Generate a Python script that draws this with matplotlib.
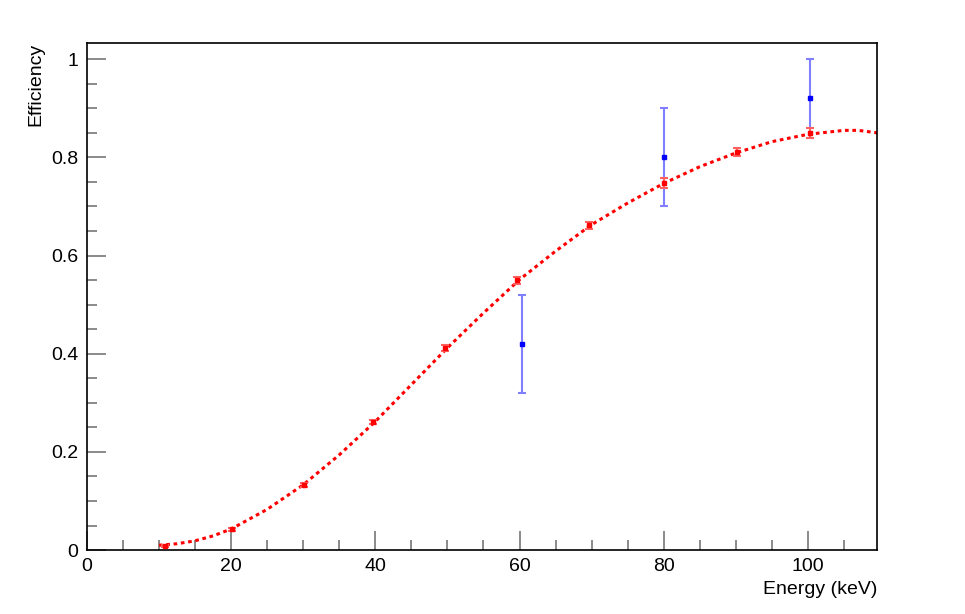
import numpy as np
from matplotlib import pyplot as plt
from matplotlib.ticker import MultipleLocator

# measured efficiency (red)
energy = [10.8, 20.1, 30.1, 39.7, 49.7, 59.6, 69.6, 80.1, 90.1, 100.3]
eff = [0.008, 0.043, 0.133, 0.261, 0.411, 0.550, 0.662, 0.747, 0.811, 0.849]
eff_err = [0.002, 0.003, 0.004, 0.005, 0.006, 0.007, 0.007, 0.01, 0.009, 0.01]

# second set (blue)
energy_b = [60.3, 80.0, 100.3]
eff_b = [0.42, 0.80, 0.92]
eff_b_err = [0.10, 0.10, 0.08]

# fit curve
fit_x = [10, 12.5, 15, 17.5, 20, 25, 30, 35, 40, 45, 50, 55, 60, 65, 70, 75,
         80, 85, 90, 95, 100, 105, 107, 109.6]
fit_y = [0.010, 0.013, 0.019, 0.029, 0.043, 0.083, 0.133, 0.194, 0.262,
         0.337, 0.412, 0.483, 0.551, 0.609, 0.663, 0.707, 0.747, 0.781,
         0.809, 0.832, 0.847, 0.855, 0.855, 0.850]

plt.rcParams["font.family"] = ["Liberation Sans", "DejaVu Sans"]

fig = plt.figure(figsize=(9.65, 6.14), dpi=100)
ax = fig.add_axes([0.090, 0.104, 0.819, 0.826])

ax.plot(fit_x, fit_y, color="red", lw=2.2, linestyle=(0, (1.2, 1.2)), zorder=2)

ax.errorbar(energy_b, eff_b, yerr=eff_b_err, fmt="s", ms=2.2, color="blue",
            ecolor="#8080ff", elinewidth=1.5, capsize=3, capthick=1.5, zorder=3)
ax.errorbar(energy, eff, yerr=eff_err, fmt="s", ms=2.2, color="red",
            ecolor="#ff6060", elinewidth=1.5, capsize=3, capthick=1.5, zorder=4)

ax.set_xlim(0, 109.6)
ax.set_ylim(0, 1.033)
ax.xaxis.set_major_locator(MultipleLocator(20))
ax.xaxis.set_minor_locator(MultipleLocator(5))
ax.yaxis.set_major_locator(MultipleLocator(0.2))
ax.yaxis.set_minor_locator(MultipleLocator(0.05))
ax.yaxis.set_major_formatter(plt.FuncFormatter(lambda v, p: f"{v:g}"))

ax.tick_params(which="both", direction="in", top=False, right=False,
               color="#777777", labelsize=14)
ax.tick_params(which="major", length=14, width=1.2, pad=6)
ax.tick_params(which="minor", length=7, width=1.2)
for s in ax.spines.values():
    s.set_linewidth(1.2)

ax.set_xlabel("Energy (keV)", fontsize=14, loc="right", labelpad=4)
ax.set_ylabel("Efficiency", fontsize=14, loc="top", labelpad=5)

fig.savefig("out.png", dpi=100)
